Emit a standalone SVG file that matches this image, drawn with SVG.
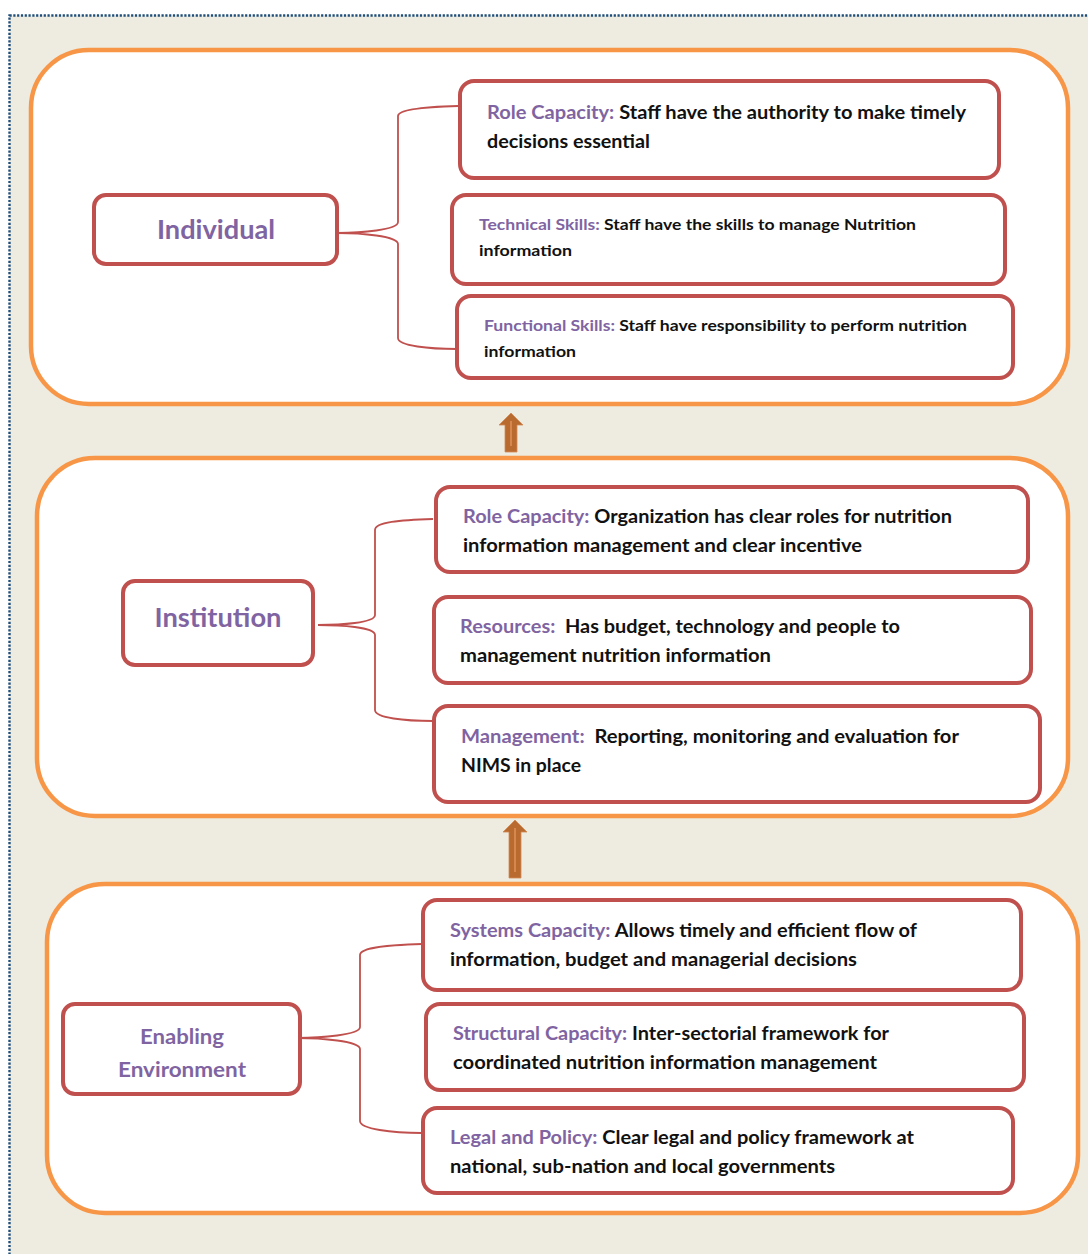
<svg xmlns="http://www.w3.org/2000/svg" width="1088" height="1254" viewBox="0 0 1088 1254">
<style>
.bg{fill:#eeebe0;stroke:#1f4e79;stroke-width:2.4;stroke-dasharray:2.2 1.6}
.outer{fill:#ffffff;stroke:#f79646;stroke-width:4.5}
.box{fill:#ffffff;stroke:#c0504d;stroke-width:4}
.con{fill:none;stroke:#c0504d;stroke-width:1.8}
.arrow{fill:#b96a2f;stroke:#d08a55;stroke-width:0.8}
.inner{stroke:#d6874e;stroke-width:2}
text{font-family:Lato,"Open Sans","Liberation Sans",sans-serif;font-weight:bold}
.t{font-size:18px;fill:#111111}
.ts{font-size:16px;fill:#111111}
.lab{fill:#8064a2}
.main{font-size:26px;fill:#8064a2;text-anchor:middle}
.main2{font-size:21px;fill:#8064a2;text-anchor:middle}
</style>
<rect class="bg" x="9.5" y="15.5" width="1100" height="1260"/>

<g id="layer-individual">
<rect class="outer" x="31" y="50" width="1037" height="354" rx="58"/>
</g>
<g id="layer-institution">
<rect class="outer" x="37" y="458" width="1031" height="358" rx="58"/>
</g>
<g id="layer-enabling">
<rect class="outer" x="47" y="884" width="1031" height="329" rx="58"/>
</g>

<g id="arrows">
<path class="arrow" d="M511,413 L523,425 L517,425 L517,452 L505,452 L505,425 L499,425 Z"/>
<line class="inner" x1="511" y1="421" x2="511" y2="446"/>
<path class="arrow" d="M515,820 L527,832 L521,832 L521,878 L509,878 L509,832 L503,832 Z"/>
<line class="inner" x1="515" y1="828" x2="515" y2="872"/>
</g>

<g id="connectors">
<path class="con" d="M458,106 C420,107 398,110 398,116 L398,222 C398,230 360,233 338,233 C360,233 398,236 398,244 L398,338 C398,346 430,349 457,349"/>
<path class="con" d="M433,519 C400,520 375,522 375,530 L375,615 C375,623 340,625 318,625 C340,625 375,627 375,635 L375,710 C375,718 405,721 433,721"/>
<path class="con" d="M422,944 C390,945 360,947 360,955 L360,1027 C360,1035 320,1038 297,1038 C320,1038 360,1041 360,1049 L360,1121 C360,1129 392,1133 422,1133"/>
</g>

<g id="node-individual">
<rect class="box" x="94" y="195" width="243" height="69" rx="12"/>
<text class="main" x="216" y="239" textLength="118" lengthAdjust="spacingAndGlyphs">Individual</text>
</g>
<g id="node-ind-role">
<rect class="box" x="460" y="81" width="539" height="97" rx="14"/>
<text class="t" x="487" y="119" textLength="479" lengthAdjust="spacingAndGlyphs"><tspan class="lab">Role Capacity:</tspan> Staff have the authority to make timely</text>
<text class="t" x="487" y="148" textLength="163" lengthAdjust="spacingAndGlyphs">decisions essential</text>
</g>
<g id="node-ind-tech">
<rect class="box" x="452" y="195" width="553" height="89" rx="14"/>
<text class="ts" x="479" y="230" textLength="437" lengthAdjust="spacingAndGlyphs"><tspan class="lab">Technical Skills:</tspan> Staff have the skills to manage Nutrition</text>
<text class="ts" x="479" y="256" textLength="93" lengthAdjust="spacingAndGlyphs">information</text>
</g>
<g id="node-ind-func">
<rect class="box" x="457" y="296" width="556" height="82" rx="14"/>
<text class="ts" x="484" y="331" textLength="483" lengthAdjust="spacingAndGlyphs"><tspan class="lab">Functional Skills:</tspan> Staff have responsibility to perform nutrition</text>
<text class="ts" x="484" y="357" textLength="92" lengthAdjust="spacingAndGlyphs">information</text>
</g>

<g id="node-institution">
<rect class="box" x="123" y="581" width="190" height="84" rx="12"/>
<text class="main" x="218" y="627" textLength="127" lengthAdjust="spacingAndGlyphs">Institution</text>
</g>
<g id="node-inst-role">
<rect class="box" x="436" y="487" width="592" height="85" rx="14"/>
<text class="t" x="463" y="523" textLength="489" lengthAdjust="spacingAndGlyphs"><tspan class="lab">Role Capacity:</tspan> Organization has clear roles for nutrition</text>
<text class="t" x="463" y="552" textLength="399" lengthAdjust="spacingAndGlyphs">information management and clear incentive</text>
</g>
<g id="node-inst-res">
<rect class="box" x="434" y="597" width="597" height="86" rx="14"/>
<text class="t" x="460" y="633" textLength="440" lengthAdjust="spacingAndGlyphs" xml:space="preserve"><tspan class="lab">Resources:</tspan>  Has budget, technology and people to</text>
<text class="t" x="460" y="662" textLength="311" lengthAdjust="spacingAndGlyphs">management nutrition information</text>
</g>
<g id="node-inst-man">
<rect class="box" x="434" y="706" width="606" height="96" rx="14"/>
<text class="t" x="461" y="743" textLength="498" lengthAdjust="spacingAndGlyphs" xml:space="preserve"><tspan class="lab">Management:</tspan>  Reporting, monitoring and evaluation for</text>
<text class="t" x="461" y="772" textLength="120" lengthAdjust="spacingAndGlyphs">NIMS in place</text>
</g>

<g id="node-enabling">
<rect class="box" x="63" y="1004" width="237" height="90" rx="12"/>
<text class="main2" x="182" y="1044" textLength="84" lengthAdjust="spacingAndGlyphs">Enabling</text>
<text class="main2" x="182" y="1077" textLength="128" lengthAdjust="spacingAndGlyphs">Environment</text>
</g>
<g id="node-en-sys">
<rect class="box" x="423" y="900" width="598" height="90" rx="14"/>
<text class="t" x="450" y="937" textLength="467" lengthAdjust="spacingAndGlyphs"><tspan class="lab">Systems Capacity:</tspan> Allows timely and efficient flow of</text>
<text class="t" x="450" y="966" textLength="407" lengthAdjust="spacingAndGlyphs">information, budget and managerial decisions</text>
</g>
<g id="node-en-struct">
<rect class="box" x="426" y="1004" width="598" height="86" rx="14"/>
<text class="t" x="453" y="1040" textLength="436" lengthAdjust="spacingAndGlyphs"><tspan class="lab">Structural Capacity:</tspan> Inter-sectorial framework for</text>
<text class="t" x="453" y="1069" textLength="424" lengthAdjust="spacingAndGlyphs">coordinated nutrition information management</text>
</g>
<g id="node-en-legal">
<rect class="box" x="423" y="1108" width="590" height="85" rx="14"/>
<text class="t" x="450" y="1144" textLength="464" lengthAdjust="spacingAndGlyphs"><tspan class="lab">Legal and Policy:</tspan> Clear legal and policy framework at</text>
<text class="t" x="450" y="1173" textLength="385" lengthAdjust="spacingAndGlyphs">national, sub-nation and local governments</text>
</g>
</svg>
